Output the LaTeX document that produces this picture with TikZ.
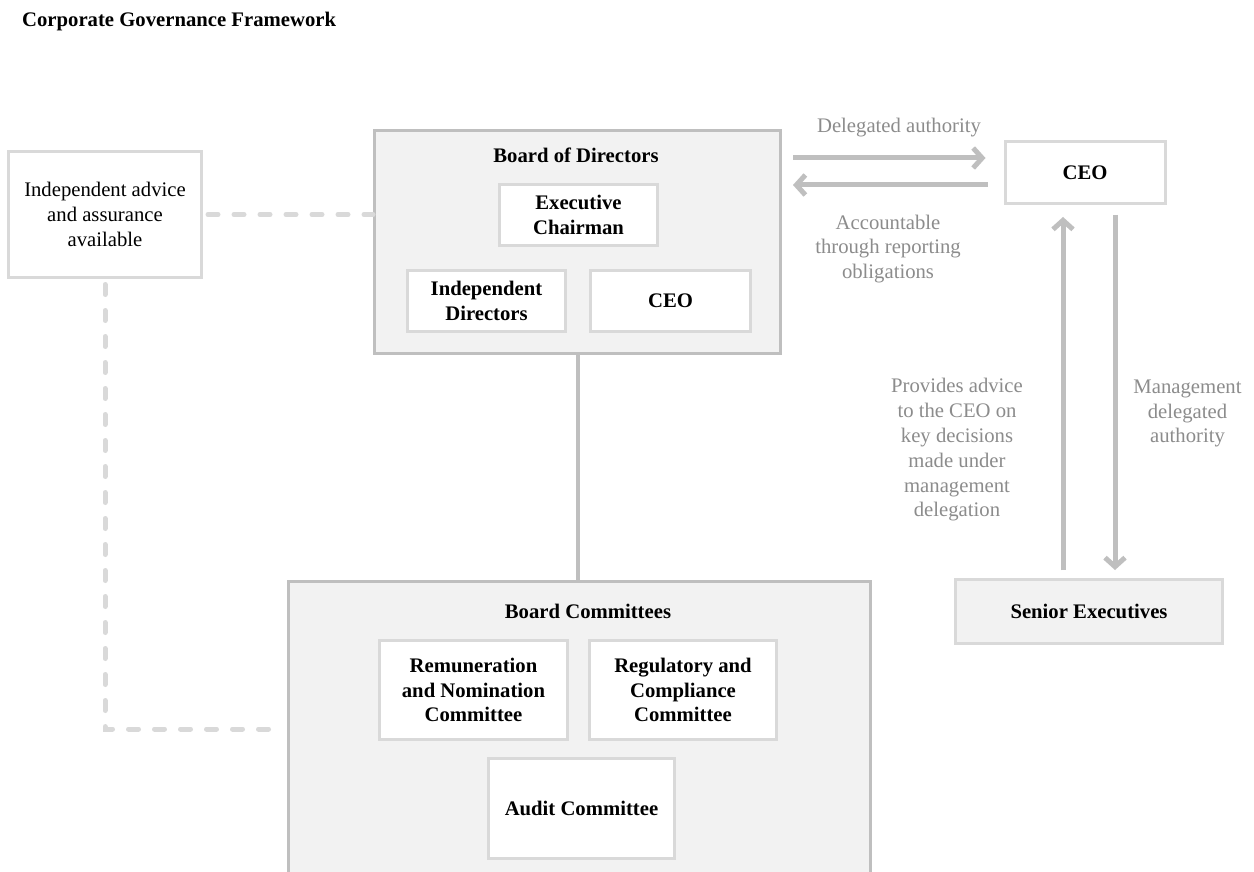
\documentclass[tikz,border=0pt]{standalone}
\usepackage{fontspec}
\setmainfont{Liberation Serif}
\usetikzlibrary{arrows.meta,calc}
\definecolor{gFill}{HTML}{F2F2F2}
\definecolor{gBorder}{HTML}{BFBFBF}
\definecolor{lBorder}{HTML}{D9D9D9}
\definecolor{aGray}{HTML}{BFBFBF}
\definecolor{lblGray}{HTML}{8C8C8C}
\newcommand\dfont{\fontsize{20.7}{24.8}\selectfont}
\tikzset{
  outerbox/.style={draw=gBorder, fill=gFill, line width=3pt},
  whitebox/.style={draw=lBorder, fill=white, line width=3pt},
  greybox/.style={draw=lBorder, fill=gFill, line width=3pt},
  boldtxt/.style={font=\dfont\bfseries},
  lbl/.style={text=lblGray, font=\dfont},
  arr/.style={draw=aGray, line width=5pt, -{Straight Barb[length=9pt,width=20pt]}},
  conn/.style={draw=gBorder, line width=4pt},
  dashln/.style={draw=lBorder, line width=5pt, dash pattern=on 10pt off 16pt, line cap=round}
}
\begin{document}
\begin{tikzpicture}[x=1pt,y=-1pt, every node/.style={font=\dfont, inner sep=0pt, align=center}]
\useasboundingbox (0,0) rectangle (1254,872);
\clip (0,0) rectangle (1254,872);
\fill[white] (0,0) rectangle (1254,872);

\node[anchor=base west, boldtxt] (title) at (22,27) {Corporate Governance Framework};

% left advice box
\node[whitebox, minimum width=193pt, minimum height=125pt] (adv) at (105,214.5) {Independent advice\\and assurance\\available};

% Board of Directors
\node[outerbox, minimum width=406pt, minimum height=223pt] (bod) at (577.5,242) {};
\node[boldtxt] (bodt) at (576,155) {Board of Directors};
\node[whitebox, boldtxt, minimum width=158pt, minimum height=61pt] (exec) at (578.5,215) {Executive\\Chairman};
\node[whitebox, boldtxt, minimum width=158pt, minimum height=61pt] (indep) at (486.5,301) {Independent\\Directors};
\node[whitebox, boldtxt, minimum width=160pt, minimum height=61pt] (ceoB) at (670.5,301) {CEO};

% Board Committees
\node[outerbox, minimum width=582pt, minimum height=295pt] (bc) at (579.5,729) {};
\node[boldtxt] (bct) at (588,611) {Board Committees};
\node[whitebox, boldtxt, minimum width=188pt, minimum height=99pt] (rem) at (473.5,690) {Remuneration\\and Nomination\\Committee};
\node[whitebox, boldtxt, minimum width=187pt, minimum height=99pt] (reg) at (683,690) {Regulatory and\\Compliance\\Committee};
\node[whitebox, boldtxt, minimum width=186pt, minimum height=100pt] (aud) at (581.5,808.5) {Audit Committee};

% right side
\node[whitebox, boldtxt, minimum width=160pt, minimum height=62pt] (ceoR) at (1085,172.5) {CEO};
\node[greybox, boldtxt, minimum width=267pt, minimum height=64pt] (senior) at (1089,611.5) {Senior Executives};

% labels
\node[lbl] (deleg) at (899,128) {Delegated authority};
\node[lbl] (acct) at (888,249) {Accountable\\through reporting\\obligations};
\node[lbl] (prov) at (957,450) {Provides advice\\to the CEO on\\key decisions\\made under\\management\\delegation};
\node[lbl] (mgmt) at (1187.5,413.5) {Management\\delegated\\authority};

% connectors
\draw[conn] (bod.south) -- (bod.south |- bc.north);
\draw[dashln, shorten <=5pt] (adv.east) -- (adv.east -| bod.west);
\draw[dashln, shorten <=6pt, shorten >=10pt] (adv.south) |- (bc.west);

\draw[arr] ($(bod.east |- ceoR.west)+(11,-14.5)$) -- ($(ceoR.west)+(-18,-14.5)$);
\draw[arr] ($(ceoR.west)+(-16,12.5)$) -- ($(bod.east |- ceoR.west)+(11,12.5)$);
\draw[arr] ($(ceoR.south |- senior.north)+(-22,-8)$) -- ($(ceoR.south)+(-22,12)$);
\draw[arr] ($(ceoR.south)+(30,10)$) -- ($(ceoR.south |- senior.north)+(30,-8)$);
\end{tikzpicture}
\end{document}
